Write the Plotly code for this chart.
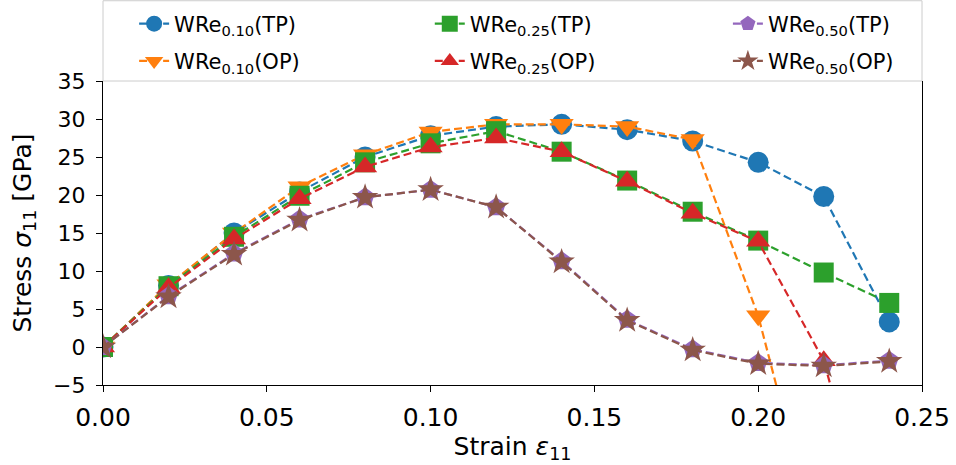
import plotly.graph_objects as go

# ---- data ----
strain = [0.00, 0.02, 0.04, 0.06, 0.08, 0.10, 0.12, 0.14, 0.16, 0.18, 0.20, 0.22, 0.24]

wre010_tp = [0.0, 8.1, 15.0, 20.4, 25.0, 27.8, 29.0, 29.3, 28.6, 27.1, 24.3, 19.8, 3.3]
wre010_op = [0.0, 8.2, 15.0, 21.1, 25.3, 28.3, 29.3, 29.3, 29.0, 27.3, 4.1, -29.0]
wre025_tp = [0.0, 8.0, 14.5, 19.9, 24.3, 26.8, 28.4, 25.7, 21.9, 17.8, 14.0, 9.8, 5.8]
wre025_op = [0.0, 7.8, 14.2, 19.5, 23.7, 26.3, 27.5, 25.7, 21.8, 17.6, 13.9, -1.8, -33.0]
wre050_tp = [0.0, 6.7, 12.3, 16.8, 19.7, 20.7, 18.4, 11.3, 3.6, -0.3, -2.1, -2.4, -1.8]
wre050_op = [0.0, 6.6, 12.2, 16.7, 19.7, 20.7, 18.4, 11.2, 3.5, -0.4, -2.2, -2.5, -1.9]

names = ["WRe<sub>0.10</sub>(TP)", "WRe<sub>0.10</sub>(OP)",
         "WRe<sub>0.25</sub>(TP)", "WRe<sub>0.25</sub>(OP)",
         "WRe<sub>0.50</sub>(TP)", "WRe<sub>0.50</sub>(OP)"]
series = [wre010_tp, wre010_op, wre025_tp, wre025_op, wre050_tp, wre050_op]
colors = ["#1f77b4", "#ff7f0e", "#2ca02c", "#d62728", "#9467bd", "#8c564b"]
symbols = ["circle", "triangle-down", "square", "triangle-up", "pentagon", "star"]
msizes = [21, 21, 20, 21, 20, 20]
legends = ["legend", "legend", "legend2", "legend2", "legend3", "legend3"]

FONT = "DejaVu Sans"

fig = go.Figure()
for i, (nm, ys) in enumerate(zip(names, series)):
    fig.add_trace(go.Scatter(
        x=strain[:len(ys)], y=ys, name=nm, mode="lines+markers",
        line=dict(color=colors[i], width=2.2, dash="8px,4px"),
        marker=dict(symbol=symbols[i], size=msizes[i], color=colors[i],
                    line=dict(width=0)),
        legend=legends[i], legendgroup="g%d" % i,
    ))

leg_common = dict(orientation="v", bgcolor="rgba(0,0,0,0)", borderwidth=0,
                  font=dict(family=FONT, size=21, color="#000"),
                  tracegroupgap=7, xanchor="left", yanchor="top",
                  xref="paper", yref="paper", y=1.255)

fig.update_layout(
    width=956, height=465, autosize=False,
    margin=dict(l=103, r=34, t=81, b=80, autoexpand=False),
    paper_bgcolor="white", plot_bgcolor="white",
    font=dict(family=FONT, color="#000"),
    legend=dict(x=0.038, **leg_common),
    legend2=dict(x=0.399, **leg_common),
    legend3=dict(x=0.763, **leg_common),
    xaxis=dict(
        range=[0, 0.25], tickvals=[0, 0.05, 0.10, 0.15, 0.20, 0.25],
        tickformat=".2f", showgrid=False, zeroline=False,
        showline=True, linecolor="#000", linewidth=1.3, mirror=False,
        ticks="outside", ticklen=6, tickwidth=1.3, tickcolor="#000",
        tickfont=dict(family=FONT, size=25, color="#000"),
        ticklabelstandoff=4,
        title=dict(text="Strain <i>ε</i><sub>11</sub>",
                   font=dict(family=FONT, size=25, color="#000"), standoff=6),
    ),
    yaxis=dict(
        range=[-5, 35], tickvals=[-5, 0, 5, 10, 15, 20, 25, 30, 35],
        ticktext=["−5", "0", "5", "10", "15", "20", "25", "30", "35"],
        showgrid=False, zeroline=False,
        showline=True, linecolor="#000", linewidth=1.3, mirror=True,
        ticks="outside", ticklen=6, tickwidth=1.3, tickcolor="#000",
        tickfont=dict(family=FONT, size=22, color="#000"),
        ticklabelstandoff=6,
        title=dict(text="Stress <i>σ</i><sub>11</sub> [GPa]",
                   font=dict(family=FONT, size=25, color="#000"), standoff=14),
    ),
    shapes=[dict(type="rect", xref="paper", yref="paper",
                 x0=0, x1=1, y0=1, y1=1.264,
                 line=dict(color="#cccccc", width=1),
                 fillcolor="rgba(255,255,255,0.8)", layer="above")],
)

fig.write_html("out.html")
